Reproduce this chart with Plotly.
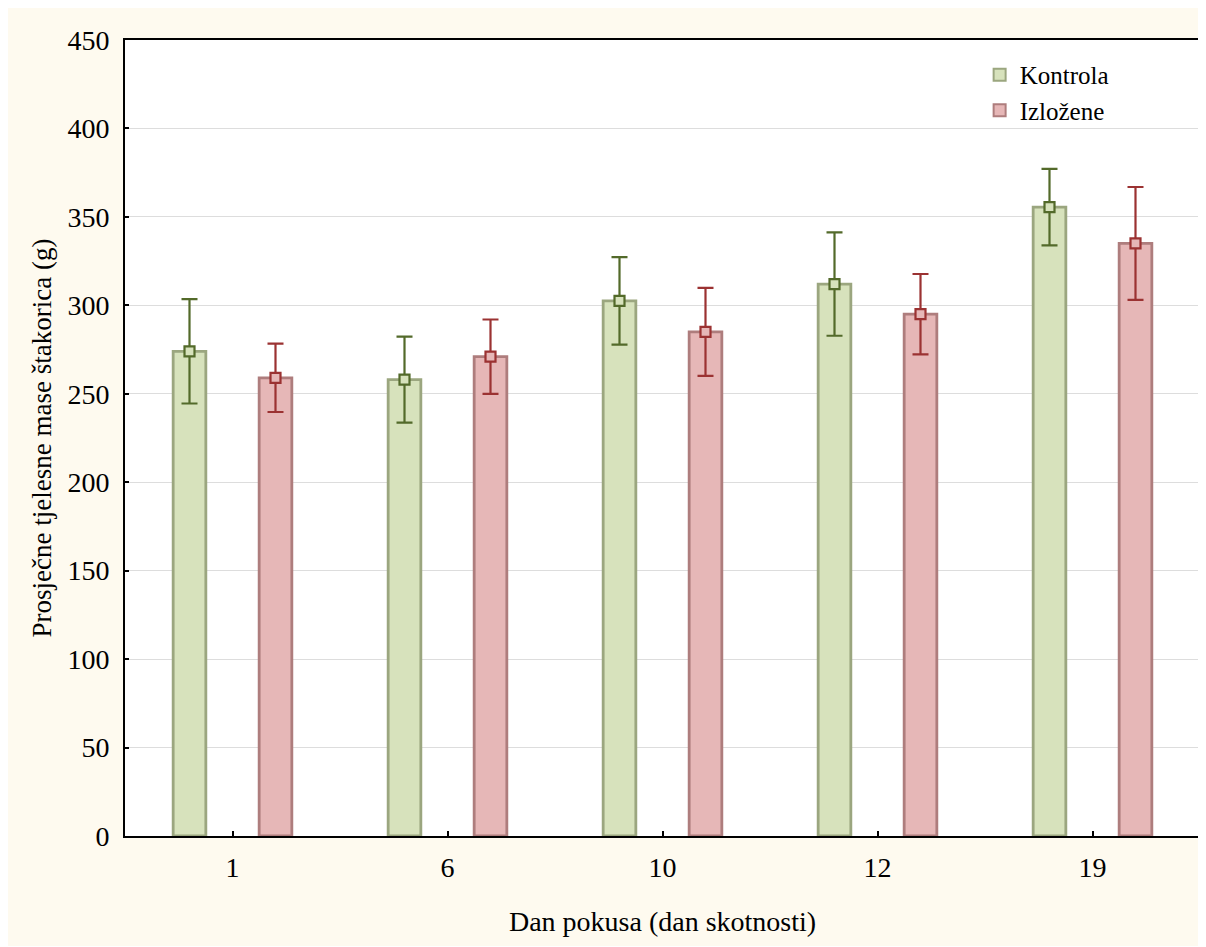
import plotly.graph_objects as go

days = ["1", "6", "10", "12", "19"]
kontrola_mean = [274, 258, 302.5, 312, 355.5]
kontrola_err = [29.5, 24.3, 24.7, 29.2, 21.6]
izlozene_mean = [259, 271, 285, 295, 335]
izlozene_err = [19.3, 21, 24.9, 22.7, 31.9]

y_ticks = [0, 50, 100, 150, 200, 250, 300, 350, 400, 450]

G_FILL, G_LINE, G_DARK = "#D7E2BC", "#9BA67F", "#536A2A"
R_FILL, R_LINE, R_DARK = "#E6B7B7", "#AE7D7D", "#9B3232"
FONT = "Liberation Serif"
CREAM = "#FEFAEF"

fig = go.Figure()
for name, mean, err, fill, line, dark, grp in [
    ("Kontrola", kontrola_mean, kontrola_err, G_FILL, G_LINE, G_DARK, "k"),
    ("Izložene", izlozene_mean, izlozene_err, R_FILL, R_LINE, R_DARK, "i"),
]:
    fig.add_trace(go.Bar(
        x=days, y=mean, name=name, offsetgroup=grp,
        marker=dict(color=fill, line=dict(color=line, width=2.8)),
        error_y=dict(type="data", array=err, color=dark, thickness=2.2, width=8),
        hoverinfo="skip",
    ))
    fig.add_trace(go.Scatter(
        x=days, y=mean, mode="markers", offsetgroup=grp, showlegend=False,
        marker=dict(symbol="square", size=10, color=fill, line=dict(color=dark, width=2.2)),
    ))

fig.update_layout(
    width=1206, height=938,
    margin=dict(l=117, r=14, t=32, b=110),
    paper_bgcolor=CREAM, plot_bgcolor="white",
    barmode="group", bargap=0.2, bargroupgap=0.62,
    scattermode="group", scattergap=0.2,
    font=dict(family=FONT, size=27, color="black"),
    legend=dict(x=0.795, y=0.985, xanchor="left", yanchor="top",
                bgcolor="rgba(0,0,0,0)", font=dict(size=25, family=FONT),
                itemsizing="constant", tracegroupgap=2),
    showlegend=True,
)
fig.update_xaxes(
    type="category", showline=True, linecolor="black", linewidth=2, mirror=True,
    ticks="inside", ticklen=5, tickcolor="black", tickwidth=2,
    showgrid=False, tickfont=dict(size=28, family=FONT), ticklabelstandoff=5,
    title=dict(text="Dan pokusa (dan skotnosti)", font=dict(size=28, family=FONT), standoff=30),
)
fig.update_yaxes(
    range=[0, 450], tickvals=y_ticks, showline=True, linecolor="black", linewidth=2, mirror=True,
    ticks="inside", ticklen=4, tickcolor="black", tickwidth=2,
    showgrid=True, gridcolor="#DDDDDD", gridwidth=1, zeroline=False,
    tickfont=dict(size=28, family=FONT), ticklabelstandoff=8,
    title=dict(text="Prosječne tjelesne mase štakorica (g)", font=dict(size=27, family=FONT), standoff=8),
)
fig.write_html(
    "out.html",
    post_script="document.documentElement.style.overflow='hidden';document.body.style.overflow='hidden';",
)
